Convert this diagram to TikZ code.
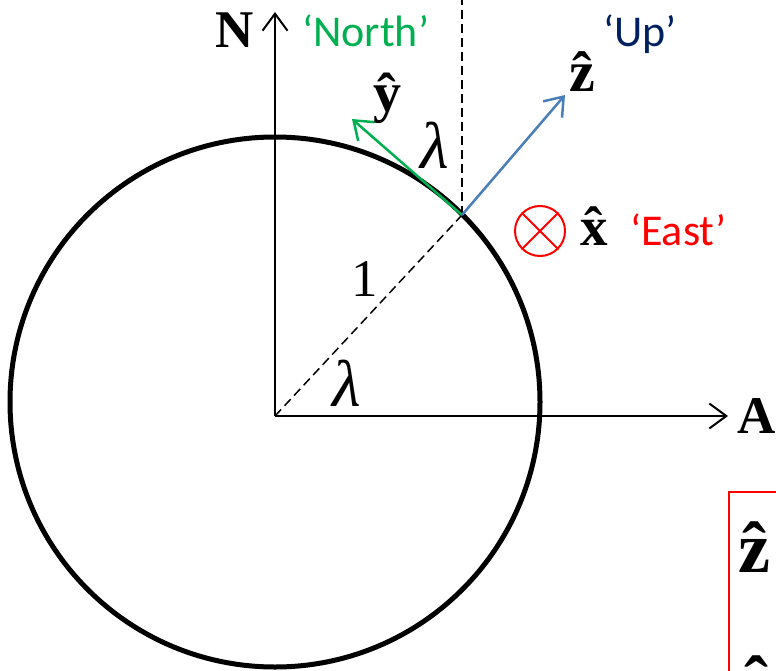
\documentclass[tikz,border=0pt]{standalone}
\usepackage{fontspec}
\setmainfont{Liberation Serif}
\newfontfamily\calibri{Carlito}
\usetikzlibrary{arrows.meta}
\definecolor{pgreen}{HTML}{00B050}
\definecolor{pnavy}{HTML}{002060}
\definecolor{pblue}{HTML}{4A7EBB}
\newcommand\hatb[1]{\leavevmode\vbox{\offinterlineskip\halign{\hfil##\hfil\cr\textbf{ˆ}\cr\noalign{\kern-0.47em}\textbf{#1}\cr}}}
\begin{document}
\begin{tikzpicture}[x=1pt,y=-1pt,
  openarrow/.style={-{Straight Barb[length=17pt,width=25pt]}},
  axis/.style={line width=2pt, openarrow},
  vec/.style={line width=2.5pt, openarrow},
  dashline/.style={line width=1.5pt, dash pattern=on 9pt off 5pt},
  lbl/.style={inner sep=0pt, font=\fontsize{53}{60}\selectfont},
  sans/.style={inner sep=0pt, font=\calibri\fontsize{44}{50}\selectfont}]
\useasboundingbox (0,0) rectangle (776,671);
\clip (0,0) rectangle (776,671);
\coordinate (C) at (275,402);
\coordinate (O) at (275,416);
\coordinate (Ntip) at (275,12);
\coordinate (Atip) at (728,416);
\coordinate (P) at (462,215);
\coordinate (Ptop) at (462,0);
\coordinate (Ytip) at (352,119);
\coordinate (Ztip) at (565,95);
\coordinate (B1) at (729,492);
\coordinate (B2) at (800,720);
\draw[line width=5pt] (C) circle[radius=265pt];
\draw[axis] (O) -- (Ntip);
\draw[axis] (O) -- (Atip);
\draw[dashline] (O) -- (P);
\draw[dashline] (P) -- (Ptop);
\draw[vec, pgreen] (P) -- (Ytip);
\draw[vec, pblue] (P) -- (Ztip);
\node[circle, draw=red, line width=2pt, minimum size=50pt, inner sep=0pt] (otimes) at (540,231) {};
\draw[red, line width=2pt] (otimes.north west) -- (otimes.south east);
\draw[red, line width=2pt] (otimes.north east) -- (otimes.south west);
\node[lbl, anchor=base west] (Nl) at (215,48) {\textbf{N}};
\node[lbl, anchor=base west] (Al) at (737,433) {\textbf{A}};
\node[lbl, anchor=base west] (one) at (351,296) {1};
\node[lbl, font=\fontsize{66}{72}\selectfont] (lam1) at (435,145) {\itshape λ};
\node[lbl, font=\fontsize{66}{72}\selectfont] (lam2) at (347,383) {\itshape λ};
\node[lbl, font=\fontsize{56}{62}\selectfont, anchor=base] (yhat) at (387,112) {\hatb{y}};
\node[lbl, font=\fontsize{58}{64}\selectfont, anchor=base] (zhat) at (582,92) {\hatb{z}};
\node[lbl, font=\fontsize{55}{60}\selectfont, anchor=base] (xhat) at (594,245) {\hatb{x}};
\node[sans, pgreen, anchor=base west] (north) at (302,47) {‘North’};
\node[sans, pnavy, anchor=base west] (up) at (603,47) {‘Up’};
\node[sans, red, anchor=base west] (east) at (630,245) {‘East’};
\draw[red, line width=2pt] (B1) rectangle (B2);
\node[lbl, font=\fontsize{72}{80}\selectfont, anchor=base] (boxz) at (754,572) {\hatb{z}};
\node[lbl, font=\fontsize{72}{80}\selectfont, anchor=base] (boxy) at (756,706) {\hatb{y}};
\end{tikzpicture}
\end{document}
